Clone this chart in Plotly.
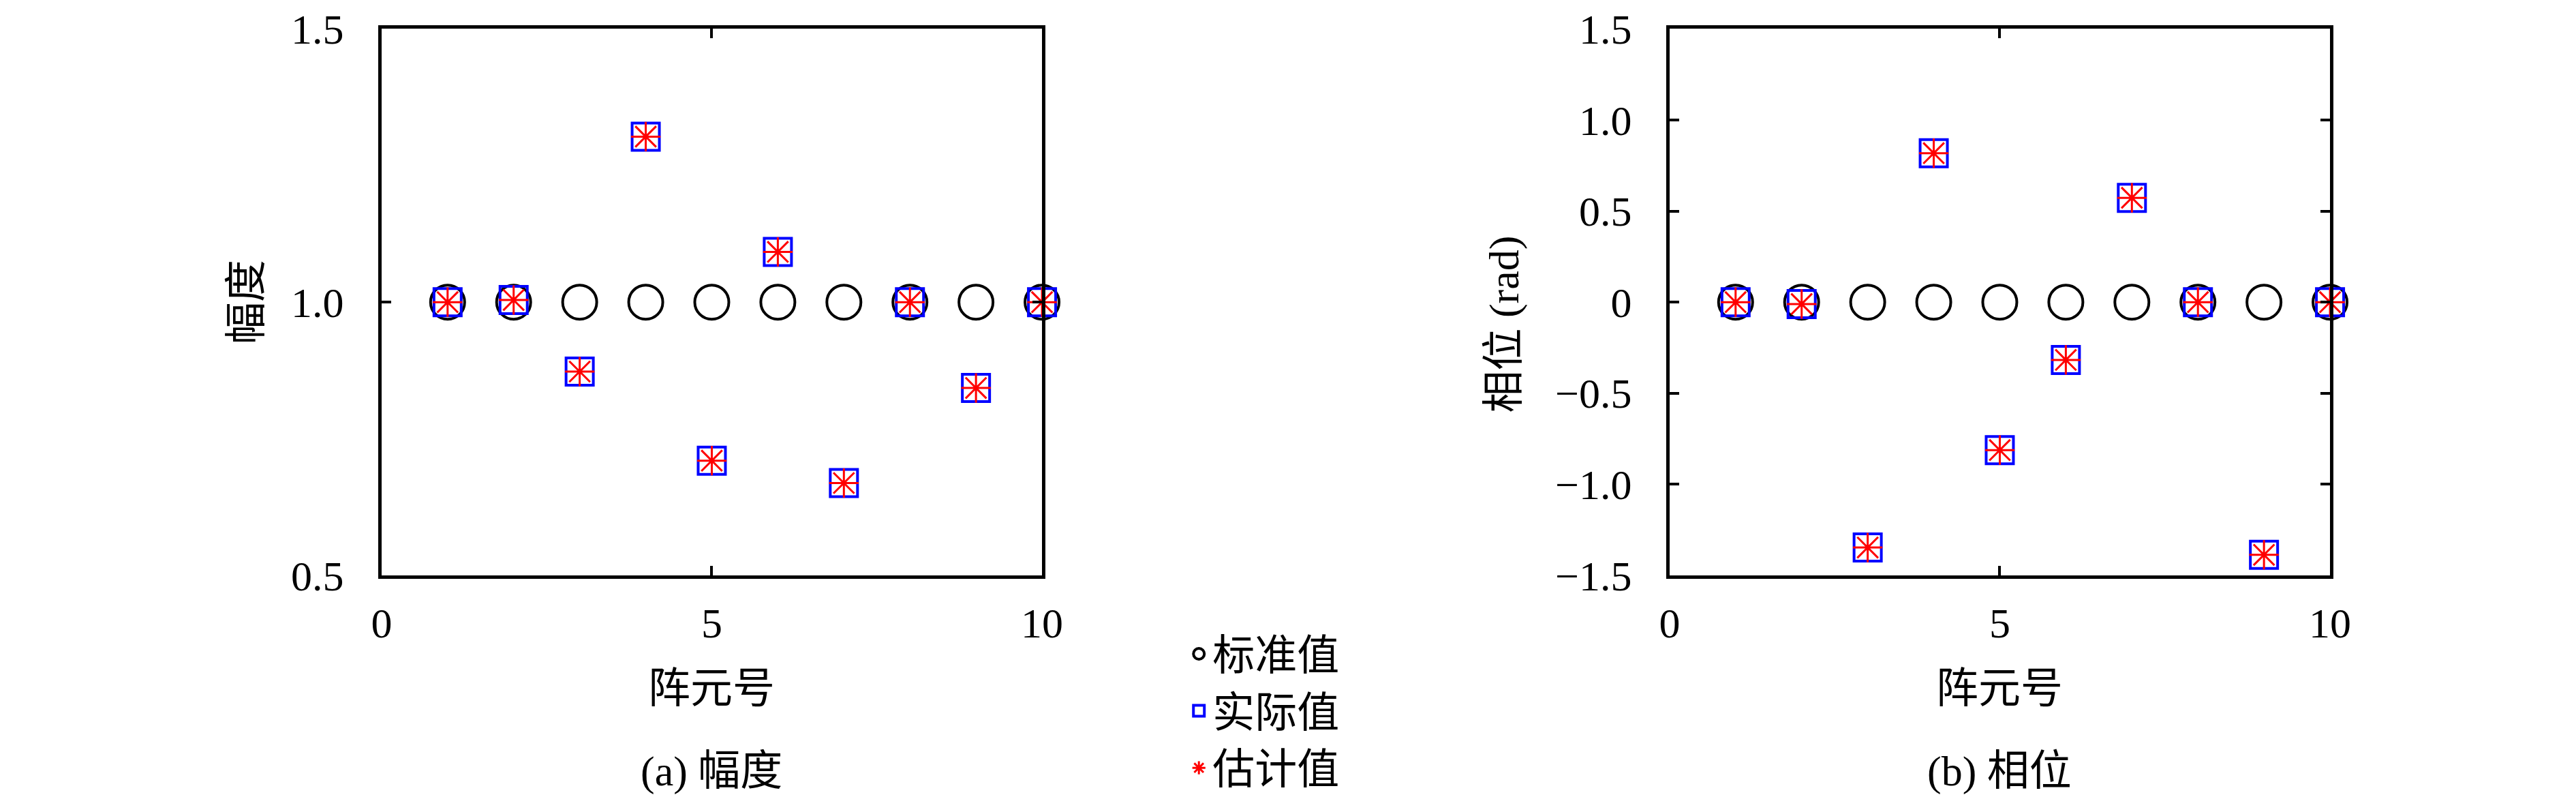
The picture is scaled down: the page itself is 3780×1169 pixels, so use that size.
import plotly.graph_objects as go
from plotly.subplots import make_subplots

# 阵元号
elements = [1, 2, 3, 4, 5, 6, 7, 8, 9, 10]

# 幅度
amp_std = [1.0, 1.0, 1.0, 1.0, 1.0, 1.0, 1.0, 1.0, 1.0, 1.0]
amp_actual = [1.0, 1.004, 0.873, 1.303, 0.710, 1.092, 0.669, 1.0, 0.843, 1.0]
amp_est = [1.0, 1.004, 0.873, 1.303, 0.710, 1.092, 0.669, 1.0, 0.843, 1.0]

# 相位 (rad)
phase_std = [0, 0, 0, 0, 0, 0, 0, 0, 0, 0]
phase_actual = [0.0, -0.01, -1.347, 0.818, -0.812, -0.317, 0.573, 0.0, -1.387, 0.0]
phase_est = [0.0, -0.01, -1.347, 0.818, -0.812, -0.317, 0.573, 0.0, -1.387, 0.0]

series_names = ["标准值", "实际值", "估计值"]
x_ticks = [0, 5, 10]
amp_ticks = [0.5, 1.0, 1.5]
amp_ticktext = ["0.5", "1.0", "1.5"]
phase_ticks = [-1.5, -1.0, -0.5, 0, 0.5, 1.0, 1.5]
phase_ticktext = ["\u22121.5", "\u22121.0", "\u22120.5", "0", "0.5", "1.0", "1.5"]

FONT = "Liberation Serif, 'Noto Sans CJK SC', serif"
FS = 62

styles = [
    dict(symbol="circle-open", size=50, color="black", line=dict(color="black", width=4)),
    dict(symbol="square-open", size=40, color="blue", line=dict(color="blue", width=4)),
    dict(symbol="asterisk-open", size=36, color="red", line=dict(color="red", width=3)),
]

fig = make_subplots(rows=1, cols=2)

for col, ys in [(1, [amp_std, amp_actual, amp_est]), (2, [phase_std, phase_actual, phase_est])]:
    for name, y, st in zip(series_names, ys, styles):
        fig.add_trace(go.Scatter(
            x=elements, y=y, mode="markers", name=name,
            marker=st, cliponaxis=False, showlegend=(col == 1),
        ), row=1, col=col)

axis_common = dict(
    showline=True, linecolor="black", linewidth=5, mirror="ticks",
    ticks="inside", ticklen=14, tickwidth=4, tickcolor="black",
    showgrid=False, zeroline=False, tickfont=dict(size=FS, color="black"),
    automargin=False, ticklabeloverflow="allow",
)
y_dom = [0.2849, 0.9705]
fig.update_xaxes(range=[0, 10], tickvals=x_ticks, ticklabelstandoff=12, **axis_common)
fig.update_xaxes(domain=[0.1460, 0.4024], row=1, col=1)
fig.update_xaxes(domain=[0.6460, 0.9024], row=1, col=2)
fig.update_yaxes(range=[0.5, 1.5], tickvals=amp_ticks, ticktext=amp_ticktext, domain=y_dom,
                 ticklabelstandoff=38, row=1, col=1, **axis_common)
fig.update_yaxes(range=[-1.5, 1.5], tickvals=phase_ticks, ticktext=phase_ticktext, domain=y_dom,
                 ticklabelstandoff=38, row=1, col=2, **axis_common)

texts = [
    ("幅度", 0.0937, 0.6280, -90),
    ("相位 (rad)", 0.5820, 0.6000, -90),
    ("阵元号", 0.2742, 0.1430, 0),
    ("阵元号", 0.7742, 0.1430, 0),
    ("(a) 幅度", 0.2742, 0.0385, 0),
    ("(b) 相位", 0.7742, 0.0385, 0),
]
for t, x, y, ang in texts:
    fig.add_annotation(text=t, x=x, y=y, xref="paper", yref="paper", showarrow=False,
                       textangle=ang, xanchor="center", yanchor="middle",
                       font=dict(size=FS, color="black", family=FONT))

fig.update_layout(
    width=3780, height=1169,
    margin=dict(l=0, r=0, t=0, b=0, autoexpand=False),
    paper_bgcolor="white", plot_bgcolor="white",
    font=dict(family=FONT, size=FS, color="black"),
    legend=dict(x=0.458, y=0.2265, xanchor="left", yanchor="top",
                font=dict(size=FS), itemsizing="trace", tracegroupgap=0,
                bgcolor="rgba(0,0,0,0)"),
)

fig.write_html("out.html")
